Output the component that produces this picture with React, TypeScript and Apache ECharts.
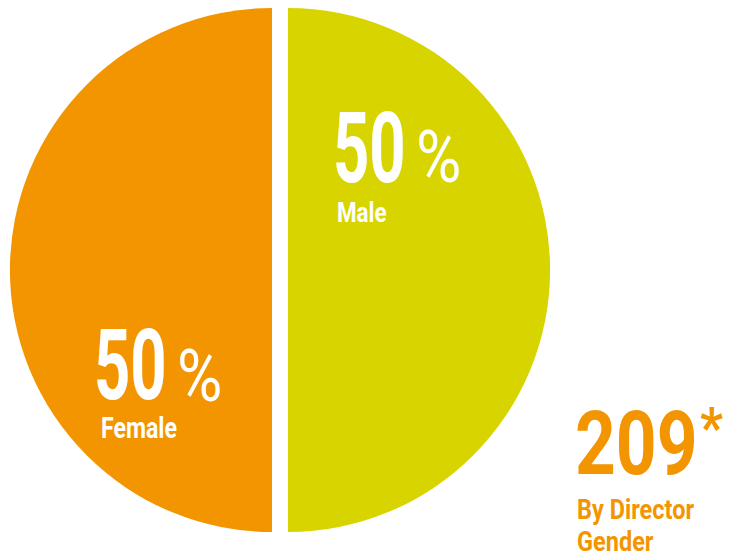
import React, { useEffect, useRef } from "react";
import * as echarts from "echarts";

const categories = ["Female", "Male"];
const values = [50, 50];
const colors = ["#F39500", "#D8D400"];
const totalLabel = "209";
const totalNote = ["By Director", "Gender"];

export default function App() {
  const ref = useRef<HTMLDivElement>(null);
  useEffect(() => {
    document.body.style.margin = "0";
    const chart = echarts.init(ref.current!, null, { renderer: "svg" });
    const data = categories.map((c, i) => ({ name: c, value: values[i] }));
    const total = values.reduce((a, b) => a + b, 0);
    const pct = values.map((v) => Math.round((v / total) * 100) + "");
    const mkSeries = (idx: number, cx: number) => ({
      type: "pie",
      center: [cx, 270],
      radius: [0, 262],
      startAngle: 90,
      clockwise: false,
      silent: true,
      z: 1,
      label: { show: false },
      labelLine: { show: false },
      data: data.map((d, i) => ({
        ...d,
        itemStyle: { color: i === idx ? colors[i] : "rgba(0,0,0,0)" },
      })),
    });
    const font = "Roboto, 'DejaVu Sans', sans-serif";
    const t = (text: string, x: number, y: number, size: number, sx: number, fill: string, weight = "bold") => ({
      type: "text",
      x,
      y,
      z: 100,
      scaleX: sx,
      silent: true,
      style: {
        text,
        fill,
        fontFamily: font,
        fontSize: size,
        fontWeight: weight,
        align: "left",
        verticalAlign: "middle",
      },
    });
    chart.setOption({
      animation: false,
      series: [mkSeries(0, 272), mkSeries(1, 288)],
      graphic: {
        elements: [
          t(pct[0], 94, 365, 99, 0.64, "#fff"),
          t("%", 177, 376, 72, 0.86, "#fff", "normal"),
          t(categories[0], 101, 428, 30, 0.77, "#fff"),
          t(pct[1], 333, 148, 99, 0.64, "#fff"),
          t("%", 416, 157, 72, 0.86, "#fff", "normal"),
          t(categories[1], 337, 212, 28, 0.8, "#fff"),
          t(totalLabel, 575, 444, 89, 0.8, colors[0]),
          t("*", 700, 428, 56, 0.9, colors[0]),
          t(totalNote[0], 577, 509, 28, 0.84, colors[0]),
          t(totalNote[1], 577, 541, 28, 0.84, colors[0]),
        ],
      },
    });
    return () => chart.dispose();
  }, []);
  return <div ref={ref} style={{ width: 732, height: 558 }} />;
}
